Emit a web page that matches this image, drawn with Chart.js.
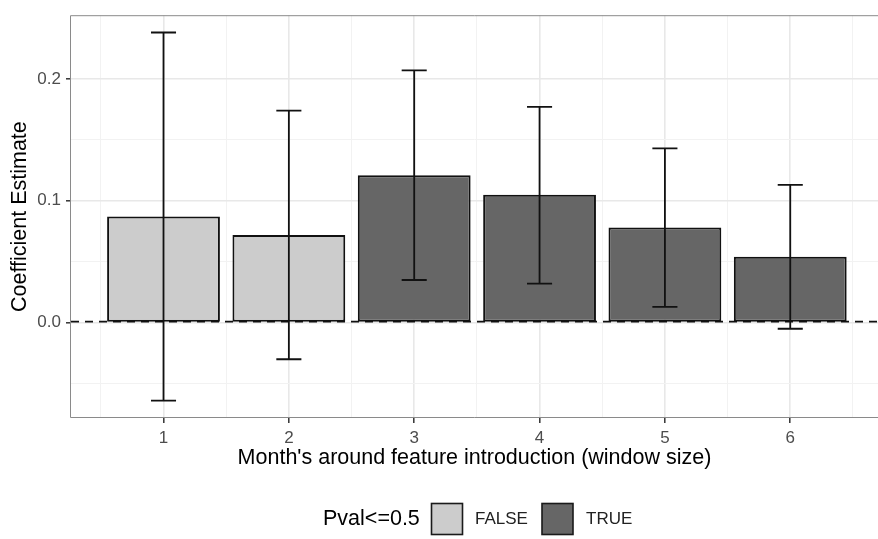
<!DOCTYPE html>
<html>
<head>
<meta charset="utf-8">
<script src="https://cdn.jsdelivr.net/npm/chart.js@4"></script>
<style>
  body { margin: 0; background: #fff; }
  canvas { display: block; }
</style>
</head>
<body>
<canvas id="myChart" width="878" height="539"></canvas>
<script>
// data
const months = [1, 2, 3, 4, 5, 6];
const estimate = [0.087, 0.072, 0.121, 0.105, 0.078, 0.054];
const lower = [-0.064, -0.030, 0.035, 0.032, 0.013, -0.005];
const upper = [0.238, 0.174, 0.207, 0.177, 0.143, 0.113];
const significant = [false, false, true, true, true, true];

const xTicks = [0.5, 1, 1.5, 2, 2.5, 3, 3.5, 4, 4.5, 5, 5.5, 6, 6.5];
const yTicks = [-0.05, 0, 0.05, 0.1, 0.15, 0.2];

const legendTitle = 'Pval<=0.5';
const legendLabels = ['FALSE', 'TRUE'];
const fillColors = ['#cccccc', '#666666'];

const FONT = '"Liberation Sans", Arial, sans-serif';

const isMajorX = v => Math.abs(v - Math.round(v)) < 1e-6;
const isMajorY = v => Math.abs(v * 10 - Math.round(v * 10)) < 1e-6;

// grid helpers: major vs minor lines, tick marks only on labelled breaks
const pick = (test, major, minor) => c => (c.tick && test(c.tick.value)) ? major : minor;

// dashed reference line at zero, under the bars
const zeroLine = {
    id: 'zeroLine',
    beforeDatasetsDraw(chart) {
        const { ctx, chartArea, scales } = chart;
        // bar borders are drawn inside the rect, so sit the line on the bottom border
        const y = scales.y.getPixelForValue(0) - 1;
        ctx.save();
        ctx.strokeStyle = '#111';
        ctx.lineWidth = 1.6;
        ctx.setLineDash([8, 6]);
        ctx.beginPath();
        ctx.moveTo(chartArea.left, y);
        ctx.lineTo(chartArea.right, y);
        ctx.stroke();
        ctx.restore();
    }
};

// error bars from the lower / upper arrays
const errorBars = {
    id: 'errorBars',
    afterDatasetsDraw(chart) {
        const { ctx, scales } = chart;
        const capHalf = 0.1;
        ctx.save();
        ctx.strokeStyle = '#111';
        ctx.lineWidth = 1.8;
        months.forEach((m, i) => {
            const x = scales.x.getPixelForValue(m);
            const x0 = scales.x.getPixelForValue(m - capHalf);
            const x1 = scales.x.getPixelForValue(m + capHalf);
            const yLo = scales.y.getPixelForValue(lower[i]);
            const yHi = scales.y.getPixelForValue(upper[i]);
            ctx.beginPath();
            ctx.moveTo(x, yLo); ctx.lineTo(x, yHi);
            ctx.moveTo(x0, yLo); ctx.lineTo(x1, yLo);
            ctx.moveTo(x0, yHi); ctx.lineTo(x1, yHi);
            ctx.stroke();
        });
        ctx.restore();
    }
};

// panel border + legend at the bottom
const panelAndLegend = {
    id: 'panelAndLegend',
    afterDraw(chart) {
        const { ctx, chartArea } = chart;
        const { left, top, right, bottom } = chartArea;
        ctx.save();
        ctx.strokeStyle = '#8a8a8a';
        ctx.lineWidth = 1;
        ctx.beginPath();
        ctx.moveTo(right, top + 0.5);
        ctx.lineTo(left - 0.5, top + 0.5);
        ctx.lineTo(left - 0.5, bottom - 0.5);
        ctx.lineTo(right, bottom - 0.5);
        ctx.stroke();

        const cy = 519;
        ctx.textBaseline = 'middle';
        ctx.fillStyle = '#000';
        ctx.font = '21.5px ' + FONT;
        ctx.fillText(legendTitle, 323, cy);

        const keyX = [431.5, 542];
        const textX = [475, 586];
        ctx.font = '17px ' + FONT;
        legendLabels.forEach((lab, i) => {
            ctx.fillStyle = fillColors[i];
            ctx.fillRect(keyX[i], cy - 15.5, 31, 31);
            ctx.strokeStyle = '#1a1a1a';
            ctx.lineWidth = 1.6;
            ctx.strokeRect(keyX[i], cy - 15.5, 31, 31);
            ctx.fillStyle = '#222';
            ctx.fillText(lab, textX[i], cy);
        });
        ctx.restore();
    }
};

const ctx = document.getElementById('myChart');

new Chart(ctx, {
    type: 'bar',
    data: {
        datasets: [{
            data: months.map((m, i) => ({ x: m, y: estimate[i] })),
            backgroundColor: significant.map(s => s ? fillColors[1] : fillColors[0]),
            borderColor: '#111',
            borderWidth: 2,
            borderSkipped: false,
            // the bar ruler measures the half-step minor ticks too, so 1.8 x half step = 0.9 of a month
            barPercentage: 1.8,
            categoryPercentage: 1.0
        }]
    },
    plugins: [zeroLine, errorBars, panelAndLegend],
    options: {
        responsive: false,
        animation: false,
        devicePixelRatio: 1,
        layout: { padding: { top: 9, left: 0, right: 0, bottom: 0 } },
        plugins: {
            legend: { display: false },
            tooltip: { enabled: false }
        },
        scales: {
            x: {
                type: 'linear',
                min: 0.262,
                max: 6.7,
                bounds: 'data',
                offset: false,
                afterBuildTicks: scale => { scale.ticks = xTicks.map(v => ({ value: v })); },
                afterFit: scale => { scale.height = 121; },
                ticks: {
                    autoSkip: false,
                    maxRotation: 0,
                    padding: 5,
                    color: '#4d4d4d',
                    font: { family: FONT, size: 17 },
                    callback: v => isMajorX(v) ? String(v) : ''
                },
                grid: {
                    offset: false,
                    color: pick(isMajorX, '#e8e8e8', '#f2f2f2'),
                    lineWidth: pick(isMajorX, 1.6, 1),
                    tickColor: pick(isMajorX, '#333', 'rgba(0,0,0,0)'),
                    tickWidth: 1.5,
                    tickLength: 5
                },
                border: { display: false },
                title: {
                    display: true,
                    text: "Month's around feature introduction (window size)",
                    color: '#000',
                    font: { family: FONT, size: 21.5 },
                    padding: { top: 0, bottom: 68 }
                }
            },
            y: {
                min: -0.0782,
                max: 0.2522,
                bounds: 'data',
                afterBuildTicks: scale => { scale.ticks = yTicks.map(v => ({ value: v })); },
                afterFit: scale => { scale.width = 71; },
                ticks: {
                    padding: 5,
                    color: '#4d4d4d',
                    font: { family: FONT, size: 17 },
                    callback: v => isMajorY(v) ? v.toFixed(1) : ''
                },
                grid: {
                    color: pick(isMajorY, '#e8e8e8', '#f2f2f2'),
                    lineWidth: pick(isMajorY, 1.6, 1),
                    tickColor: pick(isMajorY, '#333', 'rgba(0,0,0,0)'),
                    tickWidth: 1.5,
                    tickLength: 5
                },
                border: { display: false },
                title: {
                    display: true,
                    text: 'Coefficient Estimate',
                    color: '#000',
                    font: { family: FONT, size: 21.5 },
                    padding: { top: 7, bottom: 0 }
                }
            }
        }
    }
});
</script>
</body>
</html>
